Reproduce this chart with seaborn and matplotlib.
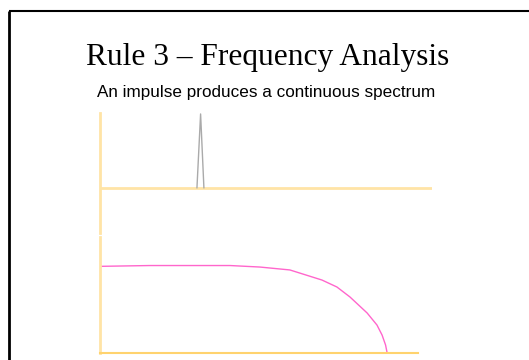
import matplotlib
matplotlib.use("Agg")
import matplotlib.pyplot as plt
from matplotlib.lines import Line2D
import seaborn as sns
import pandas as pd

# ---- data ----
title = "Rule 3 \u2013 Frequency Analysis"
subtitle = "An impulse produces a continuous spectrum"

# impulse (time domain), time normalised 0..1
impulse_t = [0.292, 0.303, 0.313]
impulse_v = [0.0, 1.0, 0.0]

# spectrum (frequency domain), frequency normalised 0..1
spec_f = [0.0, 0.157, 0.409, 0.503, 0.597, 0.698, 0.745, 0.786, 0.840, 0.871, 0.887, 0.898, 0.903]
spec_a = [0.747, 0.754, 0.754, 0.741, 0.716, 0.629, 0.569, 0.483, 0.345, 0.241, 0.155, 0.069, 0.0]

sns.set_style("white")
W, H = 529, 360
fig = plt.figure(figsize=(W / 100, H / 100), dpi=100)
fig.patch.set_facecolor("white")
fig.patch.set_edgecolor("white")
fig.patch.set_linewidth(0)

def rect(x0, y0, x1, y1):
    # pixel box (top-left origin) -> figure fraction [l, b, w, h]
    return [x0 / W, 1 - y1 / H, (x1 - x0) / W, (y1 - y0) / H]

axis_light = "#FFE4A6"
axis_strong = "#FFD36E"

# top panel: impulse
ax1 = fig.add_axes(rect(100, 113, 432, 233))
df1 = pd.DataFrame({"t": impulse_t, "v": impulse_v})
sns.lineplot(data=df1, x="t", y="v", ax=ax1, color="#AAAAAA", linewidth=1.0, sort=False)
ax1.axhline(0, color=axis_light, linewidth=2.0, zorder=1)
ax1.set_xlim(0, 1)
ax1.set_ylim(-0.608, 1.013)
for s in ["top", "right", "bottom"]:
    ax1.spines[s].set_visible(False)
ax1.spines["left"].set_color(axis_light)
ax1.spines["left"].set_linewidth(2.0)
ax1.set_xticks([]); ax1.set_yticks([])
ax1.set_xlabel(""); ax1.set_ylabel("")
ax1.patch.set_alpha(0)

# bottom panel: spectrum
ax2 = fig.add_axes(rect(100, 237, 418, 353))
df2 = pd.DataFrame({"f": spec_f, "a": spec_a})
sns.lineplot(data=df2, x="f", y="a", ax=ax2, color="#FF66CC", linewidth=1.0, sort=False)
ax2.set_xlim(0, 1)
ax2.set_ylim(0, 1)
for s in ["top", "right"]:
    ax2.spines[s].set_visible(False)
ax2.spines["left"].set_color(axis_light)
ax2.spines["left"].set_linewidth(2.0)
ax2.spines["bottom"].set_color(axis_strong)
ax2.spines["bottom"].set_linewidth(1.5)
ax2.set_xticks([]); ax2.set_yticks([])
ax2.set_xlabel(""); ax2.set_ylabel("")
ax2.patch.set_alpha(0)

# slide border (left and top only)
fig.add_artist(Line2D([8.5 / W, 8.5 / W], [-0.01, 1 - 11 / H], color="black", linewidth=2.0,
                      transform=fig.transFigure, solid_capstyle="butt"))
fig.add_artist(Line2D([8.5 / W, 1.01], [1 - 11 / H, 1 - 11 / H], color="black", linewidth=1.5,
                      transform=fig.transFigure, solid_capstyle="butt"))

fig.text(268 / W, 1 - 65 / H, title, ha="center", va="baseline",
         family="Liberation Serif", fontsize=22.6, color="black")
fig.text(266.5 / W, 1 - 97 / H, subtitle, ha="center", va="baseline",
         family="Liberation Sans", fontsize=12.3, color="black")

fig.savefig("out.png", dpi=100, facecolor="white", edgecolor="white")
